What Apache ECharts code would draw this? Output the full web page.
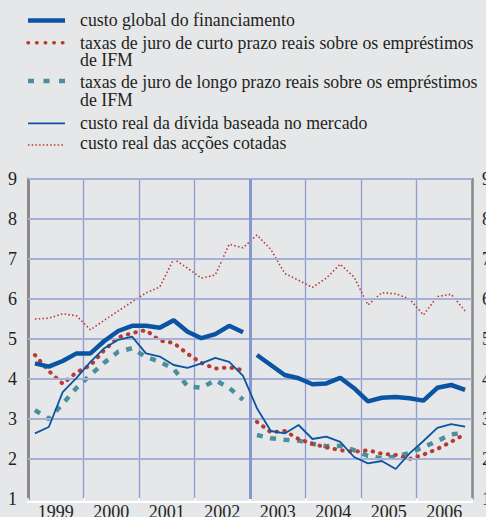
<!DOCTYPE html>
<html><head><meta charset="utf-8">
<script src="https://cdn.jsdelivr.net/npm/echarts@6/dist/echarts.min.js"></script>
<style>html,body{margin:0;padding:0;background:#e6e7e9;}#c{width:486px;height:517px;}</style>
</head><body><div id="c"></div>
<script>
// ---- data ----
const years = ['1999','2000','2001','2002','2003','2004','2005','2006'];
const yTicks = [1,2,3,4,5,6,7,8,9];
const seriesNames = [
  'custo global do financiamento',
  'taxas de juro de curto prazo reais sobre os empréstimos\nde IFM',
  'taxas de juro de longo prazo reais sobre os empréstimos\nde IFM',
  'custo real da dívida baseada no mercado',
  'custo real das acções cotadas'
];
const breakQuarter = 16; // statistical break at 2003 Q1
// quarterly values 1999Q1 .. 2006Q4
const globalCost = [4.39,4.31,4.45,4.64, 4.64,4.95,5.20,5.33, 5.33,5.28,5.47,5.18, 5.02,5.12,5.33,5.17,
                    4.60,4.35,4.10,4.02, 3.87,3.89,4.03,3.77, 3.44,3.53,3.55,3.52, 3.46,3.78,3.85,3.73];
const shortRate  = [4.60,4.20,3.88,4.17, 4.34,4.72,5.04,5.15, 5.22,4.96,4.90,4.63, 4.40,4.26,4.29,4.22,
                    2.93,2.67,2.70,2.50, 2.38,2.29,2.22,2.18, 2.22,2.13,2.10,2.00, 2.11,2.25,2.43,2.62];
const longRate   = [3.22,3.00,3.38,3.78, 4.10,4.41,4.68,4.77, 4.55,4.43,4.25,3.82, 3.78,3.97,3.78,3.48,
                    2.60,2.52,2.48,2.46, 2.38,2.32,2.33,2.22, 2.08,2.02,2.06,2.15, 2.30,2.45,2.62,2.65];
const debtCost   = [2.64,2.80,3.67,4.03, 4.43,4.77,4.98,5.06, 4.64,4.56,4.35,4.28, 4.39,4.53,4.43,4.08,
                    3.27,2.70,2.64,2.85, 2.50,2.56,2.43,2.05, 1.89,1.95,1.75,2.14, 2.45,2.78,2.87,2.81];
const equityCost = [5.50,5.52,5.63,5.58, 5.23,5.47,5.70,5.93, 6.15,6.30,7.00,6.77, 6.52,6.60,7.37,7.28,
                    7.60,7.24,6.64,6.47, 6.29,6.52,6.87,6.55, 5.85,6.16,6.13,6.00, 5.60,6.06,6.12,5.70];

// ---- build ----
const y0 = +years[0];
const qx = i => y0 + (i + 0.5) / 4;
function pts(vals, brk) {
  const out = [];
  vals.forEach((v, i) => {
    if (brk !== undefined && i === brk) out.push([y0 + brk / 4, '-']);
    out.push([qx(i), v]);
  });
  return out;
}
const red = '#b83a30', blue = '#0a55a3', teal = '#4b8e9e', gridColor = '#a5b0d8';
const fontName = 'Liberation Serif';

const chart = echarts.init(document.getElementById('c'), null, {renderer: 'svg'});

const legendStyles = [
  {stroke: blue, lineWidth: 4.5},
  {stroke: red, lineWidth: 3.5, lineDash: [0.5, 8.1], lineCap: 'round'},
  {stroke: teal, lineWidth: 4.5, lineDash: [6, 9.5]},
  {stroke: blue, lineWidth: 1.8},
  {stroke: red, lineWidth: 1.6, lineDash: [1.5, 2.2]}
];
const iconY = [20.5, 42.7, 81, 123.3, 145];
const textTop = [11, 33.6, 73.4, 114.5, 134.5];
const graphics = [];
seriesNames.forEach((n, i) => {
  graphics.push({type: 'line', silent: true, shape: {x1: 28, y1: iconY[i], x2: 65, y2: iconY[i]}, style: legendStyles[i]});
  graphics.push({type: 'text', silent: true, x: 80, y: textTop[i],
    style: {text: n, fill: '#231f20', fontFamily: fontName, fontSize: 17.8, lineHeight: 17.9, verticalAlign: 'top'}});
});

chart.setOption({
  animation: false,
  backgroundColor: '#e6e7e9',
  textStyle: {fontFamily: fontName},
  grid: {left: 28, right: 14, top: 179, bottom: 18, containLabel: false, outerBoundsMode: 'none'},
  xAxis: [
    {type: 'value', min: y0, max: y0 + years.length, interval: 1,
     axisLine: {show: false}, axisTick: {show: false}, axisLabel: {show: false},
     splitLine: {show: true, lineStyle: {color: '#8e9cd2', width: 1.3}}},
    {type: 'category', data: years, position: 'bottom', offset: 3, boundaryGap: true,
     axisLine: {show: true, lineStyle: {color: '#ffffff', width: 2}},
     axisTick: {show: true, inside: true, length: 4, lineStyle: {color: '#ffffff', width: 1.5}},
     axisLabel: {color: '#231f20', fontFamily: fontName, fontSize: 18, margin: 1},
     splitLine: {show: false}}
  ],
  yAxis: [
    {type: 'value', min: yTicks[0], max: yTicks[yTicks.length - 1], interval: 1, position: 'left',
     axisLine: {show: true, lineStyle: {color: '#8a8a8a', width: 3}}, axisTick: {show: false},
     axisLabel: {color: '#231f20', fontFamily: fontName, fontSize: 18, margin: 11},
     splitLine: {show: false}},
    {type: 'value', min: yTicks[0], max: yTicks[yTicks.length - 1], interval: 1, position: 'right',
     axisLine: {show: true, lineStyle: {color: '#8a8a8a', width: 2.5}}, axisTick: {show: false},
     axisLabel: {color: '#231f20', fontFamily: fontName, fontSize: 18, margin: 10, align: 'left'},
     splitLine: {show: false}}
  ],
  graphic: graphics,
  series: [
    {name: seriesNames[4], type: 'line', data: pts(equityCost), symbol: 'none', z: 2,
     lineStyle: {color: red, width: 1.6, type: [1.5, 2.3]},
     markLine: {silent: true, symbol: 'none', label: {show: false},
       data: yTicks.slice(1).map(v => ({yAxis: v, lineStyle: {color: gridColor, width: 2, type: 'solid'}}))
         .concat([{xAxis: y0 + breakQuarter / 4, lineStyle: {color: '#8797cf', width: 3, type: 'solid'}}])}},
    {name: seriesNames[2], type: 'line', data: pts(longRate, breakQuarter), symbol: 'none', z: 3,
     lineStyle: {color: teal, width: 4.5, type: [6, 7.5]}},
    {name: seriesNames[1], type: 'line', data: pts(shortRate, breakQuarter), symbol: 'none', z: 4,
     lineStyle: {color: red, width: 4, type: [0.5, 7.2], cap: 'round'}},
    {name: seriesNames[3], type: 'line', data: pts(debtCost), symbol: 'none', z: 5,
     lineStyle: {color: blue, width: 1.8}},
    {name: seriesNames[0], type: 'line', data: pts(globalCost, breakQuarter), symbol: 'none', z: 6,
     lineStyle: {color: blue, width: 4.5}}
  ]
});
</script></body></html>
